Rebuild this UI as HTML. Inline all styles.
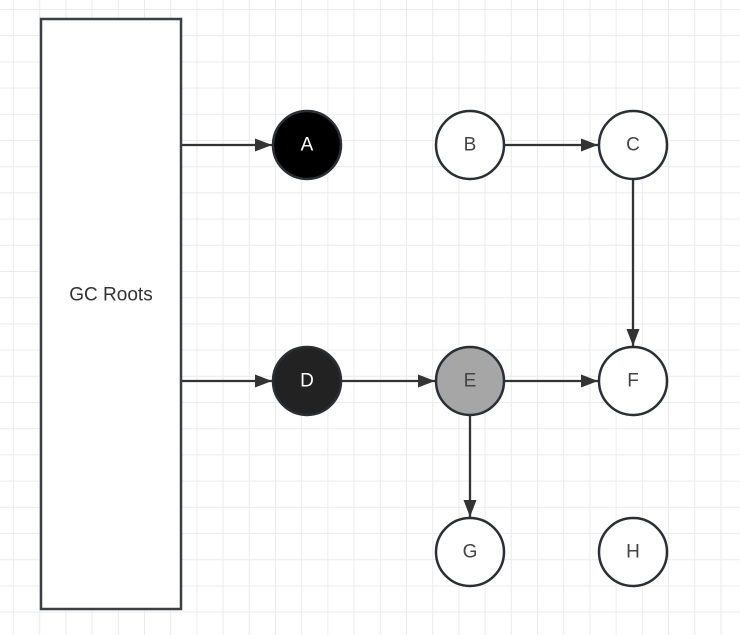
<!DOCTYPE html>
<html><head><meta charset="utf-8"><style>
body{margin:0;background:#fff}
svg{display:block}
text{font-family:"Liberation Sans",sans-serif;font-size:19px;text-anchor:middle;dominant-baseline:central}
</style></head><body>
<svg width="740" height="635">
<defs>
<pattern id="grid" x="13" y="9" width="26.2" height="26.2" patternUnits="userSpaceOnUse">
<path d="M0 0H26.2M0 0V26.2" stroke="#ebebeb" stroke-width="2" fill="none"/>
</pattern>
<marker id="arr" viewBox="0 0 17 13" refX="17" refY="6.5" markerWidth="17" markerHeight="13" markerUnits="userSpaceOnUse" orient="auto">
<path d="M0 0L17 6.5L0 13Z" fill="#333"/>
</marker>
</defs>
<rect width="740" height="635" fill="url(#grid)"/>
<g stroke="#333" stroke-width="2.3" fill="none" marker-end="url(#arr)">
<line x1="181" y1="145" x2="272" y2="145"/>
<line x1="505" y1="145" x2="598" y2="145"/>
<line x1="633" y1="180" x2="633" y2="346"/>
<line x1="181" y1="381" x2="272" y2="381"/>
<line x1="342" y1="381" x2="435" y2="381"/>
<line x1="505" y1="381" x2="598" y2="381"/>
<line x1="470" y1="416" x2="470" y2="517"/>
</g>
<rect x="41" y="19" width="140" height="590" fill="#fff" stroke="#3a3f44" stroke-width="2.5"/>
<text x="111" y="295" fill="#333">GC Roots</text>
<g stroke="#2b2f33" stroke-width="2.5">
<circle cx="307" cy="145" r="34" fill="#000"/>
<circle cx="470" cy="145" r="34" fill="#fff"/>
<circle cx="633" cy="145" r="34" fill="#fff"/>
<circle cx="307" cy="381" r="34" fill="#222"/>
<circle cx="470" cy="381" r="34" fill="#a6a6a6"/>
<circle cx="633" cy="381" r="34" fill="#fff"/>
<circle cx="470" cy="552" r="34" fill="#fff"/>
<circle cx="633" cy="552" r="34" fill="#fff"/>
</g>
<g fill="#444">
<text x="307" y="145" fill="#fff">A</text>
<text x="470" y="145">B</text>
<text x="633" y="145">C</text>
<text x="307" y="381" fill="#fff">D</text>
<text x="470" y="381">E</text>
<text x="633" y="381">F</text>
<text x="470" y="552">G</text>
<text x="633" y="552">H</text>
</g>
</svg>
</body></html>
